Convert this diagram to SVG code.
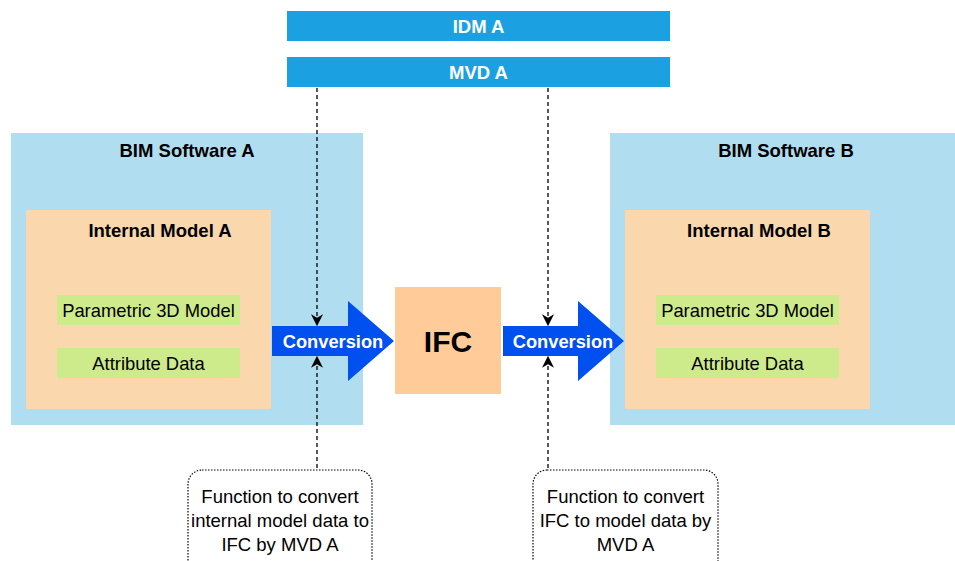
<svg xmlns="http://www.w3.org/2000/svg" width="955" height="561" viewBox="0 0 955 561">
<defs>
<style>
text{font-family:"Liberation Sans",Arial,sans-serif;text-anchor:middle;}
.b{font-weight:bold;}
.bar{fill:#1ba1e2;}
.sw{fill:#b1ddf0;}
.im{fill:#fad7ac;}
.gr{fill:#cdeb8b;}
.arr{fill:#0050ef;}
.dash{stroke:#000;stroke-width:1.3;stroke-dasharray:4 3;fill:none;}
.note{fill:#fff;stroke:#000;stroke-width:1.2;stroke-dasharray:1.5 1.5;}
</style>
<marker id="ah" viewBox="0 0 10 10" refX="9" refY="5" markerWidth="12" markerHeight="12" markerUnits="userSpaceOnUse" orient="auto">
<path d="M0,0 L10,5 L0,10 L3,5 Z" fill="#000"/>
</marker>
</defs>
<rect width="955" height="561" fill="#fff"/>
<g id="idm"><rect class="bar" x="287" y="11" width="383" height="30"/><text class="b" x="478.5" y="33" font-size="18.5" fill="#fff">IDM A</text></g>
<g id="mvd"><rect class="bar" x="287" y="57" width="383" height="30"/><text class="b" x="478.5" y="79" font-size="18.5" fill="#fff">MVD A</text></g>
<g id="swA"><rect class="sw" x="11" y="133" width="352" height="292"/><text class="b" x="187" y="157" font-size="18.5">BIM Software A</text></g>
<g id="imA"><rect class="im" x="26" y="210" width="245" height="199"/><text class="b" x="160" y="237" font-size="18.5">Internal Model A</text></g>
<g id="pA"><rect class="gr" x="57" y="295" width="183" height="30"/><text x="148.5" y="317" font-size="18.4">Parametric 3D Model</text></g>
<g id="aA"><rect class="gr" x="57" y="348" width="183" height="30"/><text x="148.5" y="370" font-size="18.4">Attribute Data</text></g>
<g id="swB"><rect class="sw" x="610" y="133" width="345" height="292"/><text class="b" x="786" y="157" font-size="18.5">BIM Software B</text></g>
<g id="imB"><rect class="im" x="625" y="210" width="245" height="199"/><text class="b" x="759" y="237" font-size="18.5">Internal Model B</text></g>
<g id="pB"><rect class="gr" x="656" y="295" width="183" height="30"/><text x="747.5" y="317" font-size="18.4">Parametric 3D Model</text></g>
<g id="aB"><rect class="gr" x="656" y="348" width="183" height="30"/><text x="747.5" y="370" font-size="18.4">Attribute Data</text></g>
<g id="ifc"><rect fill="#ffcc99" x="395" y="287" width="106" height="107"/><text class="b" x="448" y="352" font-size="30">IFC</text></g>
<g id="convA"><path class="arr" d="M272,326 H348 V301 L394,341 L348,381 V356 H272 Z"/><text class="b" x="333" y="348" font-size="18.3" fill="#fff">Conversion</text></g>
<g id="convB"><path class="arr" d="M503,326 H578 V301 L624,341 L578,381 V356 H503 Z"/><text class="b" x="563" y="348" font-size="18.3" fill="#fff">Conversion</text></g>
<g id="noteA"><rect class="note" x="188" y="470" width="184" height="110" rx="14"/><text font-size="18.5"><tspan x="280" y="503">Function to convert</tspan><tspan x="280" y="527">internal model data to</tspan><tspan x="280" y="551">IFC by MVD A</tspan></text></g>
<g id="noteB"><rect class="note" x="533" y="470" width="185" height="110" rx="14"/><text font-size="18.5"><tspan x="625.5" y="503">Function to convert</tspan><tspan x="625.5" y="527">IFC to model data by</tspan><tspan x="625.5" y="551">MVD A</tspan></text></g>
<g id="connectors">
<line class="dash" x1="317" y1="88" x2="317" y2="325" marker-end="url(#ah)"/>
<line class="dash" x1="317" y1="468" x2="317" y2="357" marker-end="url(#ah)"/>
<line class="dash" x1="548" y1="88" x2="548" y2="325" marker-end="url(#ah)"/>
<line class="dash" x1="548" y1="468" x2="548" y2="357" marker-end="url(#ah)"/>
</g>
</svg>
